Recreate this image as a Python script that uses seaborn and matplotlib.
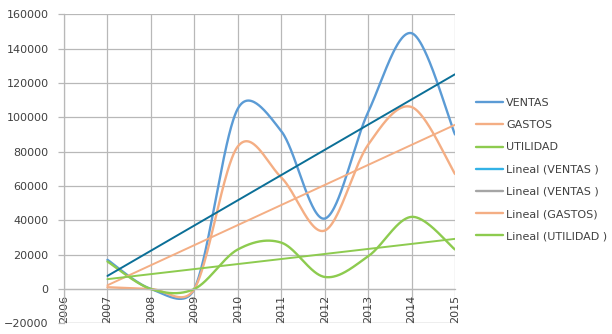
import numpy as np
import pandas as pd
import matplotlib
matplotlib.use("Agg")
import matplotlib.pyplot as plt
import seaborn as sns
from matplotlib.lines import Line2D

# ---- data ----
years = [2007, 2008, 2009, 2010, 2011, 2012, 2013, 2014, 2015]
ventas = [17000, 0, 0, 105000, 92000, 41000, 103000, 149000, 90000]
gastos = [1000, 0, 0, 83000, 65000, 34000, 84000, 106000, 67000]
utilidad = [16000, 0, 0, 23000, 27000, 7000, 19000, 42000, 23000]
tick_years = list(range(2006, 2016))
legend_labels = ["VENTAS", "GASTOS", "UTILIDAD", "Lineal (VENTAS )",
                 "Lineal (VENTAS )", "Lineal (GASTOS)", "Lineal (UTILIDAD )"]

C_V = "#5B9BD5"
C_G = "#F4AE84"
C_U = "#8DCB4F"
C_TV = "#0B6F97"
C_TV_LEG = "#33B2E6"
C_GRAY = "#A5A5A5"

# pixel scale used for Excel-like smoothing
SX = 43.5            # px per year
SY = 309 / 180000.0  # px per unit


def excel_smooth(x, y, n=60):
    P = np.column_stack([np.asarray(x, float) * SX, np.asarray(y, float) * SY])
    out = []
    m = len(P)
    for i in range(m - 1):
        p0 = P[i - 1] if i > 0 else P[i]
        p1, p2 = P[i], P[i + 1]
        p3 = P[i + 2] if i + 2 < m else P[i + 1]
        d12 = np.linalg.norm(p2 - p1)
        t1 = (p2 - p0) / 6.0
        t2 = (p3 - p1) / 6.0
        for t in (t1, t2):
            L = np.linalg.norm(t)
            if L > d12 / 2:
                t *= (d12 / 2) / L
        c1 = p1 + t1
        c2 = p2 - t2
        tt = np.linspace(0, 1, n)[:, None]
        if i > 0:
            tt = tt[1:]
        seg = ((1 - tt) ** 3) * p1 + 3 * ((1 - tt) ** 2) * tt * c1 + 3 * (1 - tt) * tt ** 2 * c2 + tt ** 3 * p2
        out.append(seg)
    S = np.vstack(out)
    return S[:, 0] / SX, S[:, 1] / SY


sns.set_theme(style="white")
plt.rcParams["font.family"] = ["DejaVu Sans"]

fig = plt.figure(figsize=(6.12, 3.34), dpi=100)
ax = fig.add_axes([64 / 612, 1 - 323.3 / 334, (455 - 64) / 612, (323.3 - 14.3) / 334])

# smoothed series
for vals, col in [(ventas, C_V), (gastos, C_G), (utilidad, C_U)]:
    sx, sy = excel_smooth(years, vals)
    sns.lineplot(x=sx, y=sy, ax=ax, color=col, lw=1.7, sort=False, estimator=None)

# linear trendlines
xi = np.arange(1, len(years) + 1)
for vals, col in [(ventas, C_TV), (gastos, C_G), (utilidad, C_U)]:
    a, b = np.polyfit(xi, vals, 1)
    sns.lineplot(x=[years[0], years[-1]], y=[a * xi[0] + b, a * xi[-1] + b],
                 ax=ax, color=col, lw=1.4, estimator=None)

ax.set_xlim(2006, 2015)
ax.set_ylim(-20000, 160000)
ax.set_yticks(np.arange(-20000, 160001, 20000))
ax.set_xticks(tick_years)
ax.set_xticklabels([str(t) for t in tick_years])

grid_c = "#B8B8B8"
ax.grid(True, color=grid_c, lw=0.9)
ax.set_axisbelow(True)
for s in ["top", "right"]:
    ax.spines[s].set_visible(False)
ax.spines["left"].set_color(grid_c)
ax.spines["bottom"].set_color(grid_c)
ax.spines["bottom"].set_position(("data", 0))
ax.spines["left"].set_linewidth(0.9)
ax.spines["bottom"].set_linewidth(0.9)
ax.axhline(-20000, color=grid_c, lw=0.9, zorder=0)

ax.tick_params(axis="y", which="both", left=True, length=4, color=grid_c, width=0.9,
               labelsize=8, labelcolor="#404040", pad=7)
ax.tick_params(axis="x", which="both", bottom=False, length=0, labelsize=8,
               labelcolor="#404040", pad=4, labelrotation=90)
for lab in ax.get_xticklabels():
    lab.set_rotation(90)
    lab.set_va("top")
    lab.set_ha("center")

handles = [Line2D([], [], color=c, lw=1.7) for c in [C_V, C_G, C_U, C_TV_LEG, C_GRAY, C_G, C_U]]
fig.legend(handles, legend_labels, loc="upper left",
           bbox_to_anchor=(476 / 612, 1 - 98 / 334), frameon=False,
           borderpad=0, borderaxespad=0, fontsize=8, handlelength=2.45,
           handletextpad=0.25, labelspacing=1.1, labelcolor="#404040")

fig.savefig("out.png", dpi=100)
